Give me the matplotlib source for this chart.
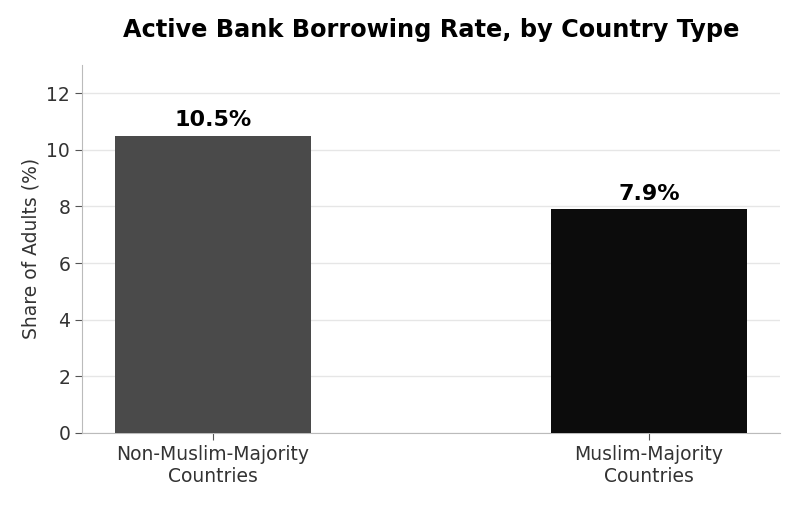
import matplotlib

matplotlib.use("Agg")
import matplotlib.pyplot as plt

categories = ["Non-Muslim-Majority\nCountries", "Muslim-Majority\nCountries"]
rates = [10.5, 7.9]
bar_colors = ["#4a4a4a", "#0c0c0c"]

plt.rcParams.update({"font.family": "DejaVu Sans"})

fig, ax = plt.subplots(figsize=(8, 5.07), dpi=100)
fig.subplots_adjust(left=0.1025, right=0.975, top=0.872, bottom=0.146)

x = range(len(categories))
bars = ax.bar(x, rates, width=0.45, color=bar_colors, zorder=3)
for b, v in zip(bars, rates):
    ax.text(b.get_x() + b.get_width() / 2, v + 0.2, f"{v:.1f}%",
            ha="center", va="bottom", fontsize=16, fontweight="bold")

ax.set_xlim(-0.3, 1.3)
ax.set_ylim(0, 13)
ax.set_xticks(list(x))
ax.set_xticklabels(categories)
ax.set_yticks(range(0, 13, 2))
ax.set_ylabel("Share of Adults (%)", fontsize=13.5, color="#333333")
ax.set_title("Active Bank Borrowing Rate, by Country Type",
             fontsize=17.3, fontweight="bold", pad=20)

ax.grid(axis="y", color="#e6e6e6", linewidth=1.0, zorder=0)
ax.set_axisbelow(True)
for s in ("top", "right"):
    ax.spines[s].set_visible(False)
for s in ("left", "bottom"):
    ax.spines[s].set_color("#bbbbbb")
ax.tick_params(axis="both", labelsize=13.5, colors="#333333", length=5)
ax.tick_params(axis="both", color="#555555")

fig.savefig("out.png", dpi=100)
